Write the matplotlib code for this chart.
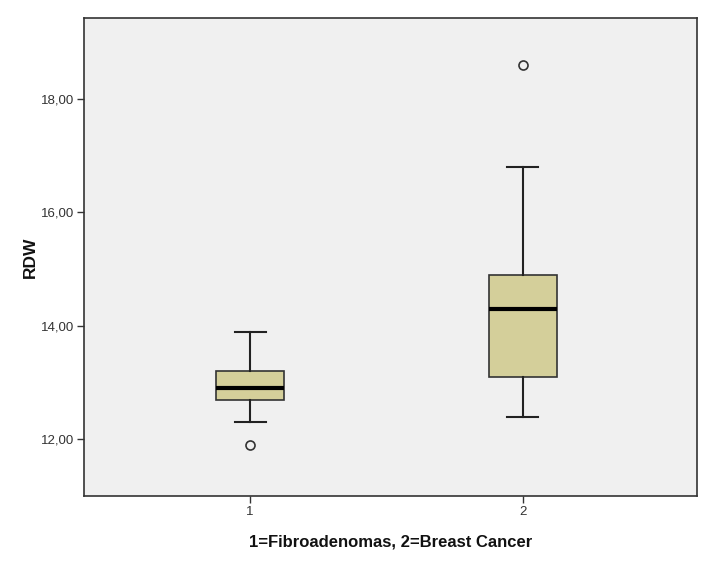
import matplotlib
matplotlib.use("Agg")
import matplotlib.pyplot as plt
from matplotlib.ticker import FixedLocator, FuncFormatter

plt.rcParams['font.family'] = ['Liberation Sans', 'DejaVu Sans']

groups = ["1", "2"]
whislo = [12.3, 12.4]
q1 = [12.7, 13.1]
med = [12.9, 14.3]
q3 = [13.2, 14.9]
whishi = [13.9, 16.8]
fliers = [[11.9], [18.6]]
yticks = [12, 14, 16, 18]

stats = []
for i, g in enumerate(groups):
    stats.append(dict(label=g, whislo=whislo[i], q1=q1[i], med=med[i],
                      q3=q3[i], whishi=whishi[i], fliers=fliers[i]))

fig = plt.figure(figsize=(7.09, 5.69), dpi=100)
ax = fig.add_axes([84/709, 1-496/569, (697-84)/709, (496-18)/569])
ax.set_facecolor('#F0F0F0')

ax.bxp(stats, positions=[1, 2], widths=0.25, patch_artist=True,
       boxprops=dict(facecolor='#D4CF9A', edgecolor='#333333', linewidth=1.2),
       medianprops=dict(color='black', linewidth=3.0),
       whiskerprops=dict(color='#222222', linewidth=1.5),
       capprops=dict(color='#222222', linewidth=1.5),
       capwidths=0.115,
       flierprops=dict(marker='o', markerfacecolor='none', markeredgecolor='#333333',
                       markersize=6.5, markeredgewidth=1.2))

ax.set_xlim(0.39, 2.64)
ax.set_ylim(11.0, 19.43)
ax.yaxis.set_major_locator(FixedLocator(yticks))
ax.yaxis.set_major_formatter(FuncFormatter(lambda v, p: f"{v:.2f}".replace('.', ',')))
ax.set_xticks([1, 2])
ax.set_xticklabels(groups)

for s in ax.spines.values():
    s.set_color('#333333')
    s.set_linewidth(1.2)

ax.tick_params(axis='both', direction='out', length=5, width=1, color='#333333',
               labelsize=9.5, labelcolor='#333333')
ax.tick_params(axis='y', pad=2)
ax.tick_params(axis='x', pad=2)

ax.set_ylabel("RDW", fontsize=12.5, fontweight='bold', labelpad=2, color='#111111')
ax.set_xlabel("1=Fibroadenomas, 2=Breast Cancer", fontsize=12, fontweight='bold',
              labelpad=12, color='#111111')

fig.savefig("out.png", dpi=100, facecolor='white')
